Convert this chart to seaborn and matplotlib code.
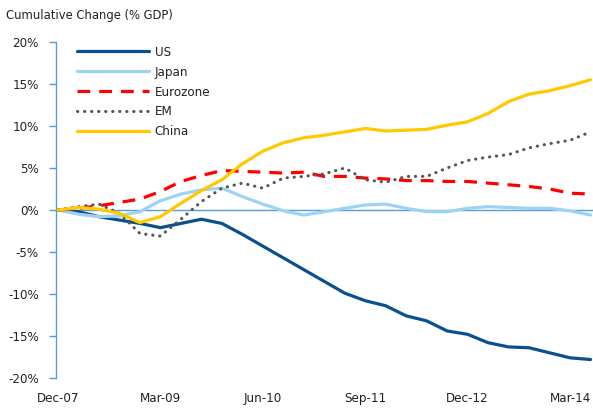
import numpy as np
import pandas as pd
import matplotlib
matplotlib.use("Agg")
import matplotlib.pyplot as plt
import seaborn as sns

quarters = ["Dec-07", "Mar-08", "Jun-08", "Sep-08", "Dec-08", "Mar-09", "Jun-09", "Sep-09",
            "Dec-09", "Mar-10", "Jun-10", "Sep-10", "Dec-10", "Mar-11", "Jun-11", "Sep-11",
            "Dec-11", "Mar-12", "Jun-12", "Sep-12", "Dec-12", "Mar-13", "Jun-13", "Sep-13",
            "Dec-13", "Mar-14", "Jun-14"]

us = [0, -0.2, -0.8, -1.2, -1.6, -2.1, -1.6, -1.1, -1.6, -2.9, -4.3, -5.7, -7.1, -8.5,
      -9.9, -10.8, -11.4, -12.6, -13.2, -14.4, -14.8, -15.8, -16.3, -16.4, -17.0, -17.6, -17.8]
japan = [0, -0.5, -0.8, -0.7, -0.2, 1.1, 1.9, 2.4, 2.6, 1.6, 0.7, -0.1, -0.6, -0.2,
         0.2, 0.6, 0.7, 0.2, -0.2, -0.2, 0.2, 0.4, 0.3, 0.2, 0.2, -0.1, -0.6]
eurozone = [0, 0.2, 0.5, 0.9, 1.3, 2.2, 3.4, 4.1, 4.7, 4.6, 4.5, 4.4, 4.5, 4.0,
            4.0, 3.8, 3.7, 3.5, 3.5, 3.4, 3.4, 3.2, 3.0, 2.8, 2.5, 2.0, 1.9]
em = [0, 0.4, 0.7, -0.4, -2.8, -3.1, -1.1, 1.0, 2.6, 3.2, 2.6, 3.8, 4.0, 4.3,
      5.0, 3.6, 3.3, 4.0, 4.0, 5.0, 5.9, 6.3, 6.6, 7.4, 7.9, 8.3, 9.3]
china = [0, 0.3, 0.1, -0.4, -1.5, -0.8, 0.8, 2.3, 3.6, 5.5, 7.0, 8.0, 8.6, 8.9,
         9.3, 9.7, 9.4, 9.5, 9.6, 10.1, 10.5, 11.5, 12.9, 13.8, 14.2, 14.8, 15.5]

tick_labels = ["Dec-07", "Mar-09", "Jun-10", "Sep-11", "Dec-12", "Mar-14"]
y_ticks = [-20, -15, -10, -5, 0, 5, 10, 15, 20]

sns.set_style("white")
fam = ['DejaVu Sans']
plt.rcParams['font.family'] = fam
plt.rcParams['font.stretch'] = 'condensed'

fig = plt.figure(figsize=(5.93, 4.09), dpi=100)
ax = fig.add_axes([56 / 593, 31 / 409, 537 / 593, 336 / 409])

idx = np.arange(len(quarters))
axis_blue = "#5B9BD5"
ax.axhline(0, color=axis_blue, lw=1.0, zorder=1)

series = [
    ("US", us, "#0A4F8F", "-", 2.3),
    ("Japan", japan, "#9DD3F2", "-", 2.3),
    ("Eurozone", eurozone, "#FF0000", (0, (4, 2.8)), 2.3),
    ("EM", em, "#555555", (0, (0.1, 2.2)), 2.2),
    ("China", china, "#FFC800", "-", 2.3),
]
for name, vals, col, ls, lw in series:
    sns.lineplot(x=idx, y=vals, ax=ax, color=col, linewidth=lw, label=name, zorder=3)
    line = ax.get_lines()[-1]
    line.set_linestyle(ls)
    if name == "EM":
        line.set_dash_capstyle("round")

ax.set_xlim(-0.098, 26.12)
ax.set_ylim(-20, 20)
ax.set_xticks([0, 5, 10, 15, 20, 25])
ax.set_xticklabels(tick_labels)
ax.set_yticks(y_ticks)
ax.set_yticklabels([f"{v}%" for v in y_ticks])

for s in ["top", "right", "bottom"]:
    ax.spines[s].set_visible(False)
ax.spines["left"].set_color(axis_blue)
ax.spines["left"].set_linewidth(1.0)
ax.tick_params(axis="y", which="both", left=True, length=5, width=1.0, color=axis_blue,
               labelsize=9.5, labelcolor="#222222", pad=7.5)
ax.tick_params(axis="x", which="both", bottom=False, length=0, labelsize=9.5,
               labelcolor="#222222", pad=10)
ax.set_xlabel("")
ax.set_ylabel("")

leg = ax.legend(loc="upper left", bbox_to_anchor=(0.025, 1.012), frameon=False,
                handlelength=5.4, handletextpad=0.45, labelspacing=0.52,
                fontsize=9.5, borderaxespad=0.2)
for t in leg.get_texts():
    t.set_color("#222222")

fig.text(6 / 593, 1 - 15 / 409, "Cumulative Change (% GDP)", fontsize=9.3,
         color="#222222", va="center", ha="left")

fig.savefig("out.png", dpi=100)
